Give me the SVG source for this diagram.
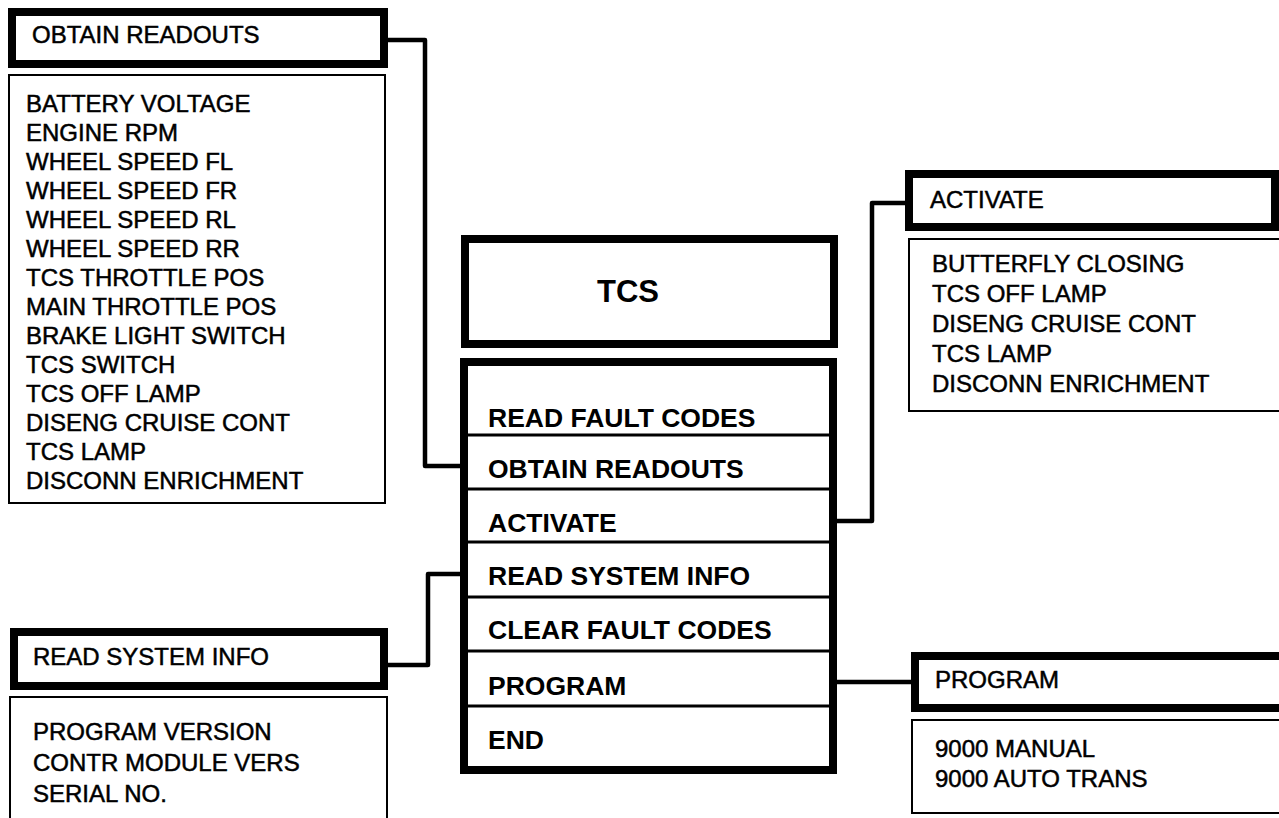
<svg xmlns="http://www.w3.org/2000/svg" width="1279" height="818" viewBox="0 0 1279 818">
<style>
.hdr{fill:#fff;stroke:#000;stroke-width:8}
.lst{fill:#fff;stroke:#000;stroke-width:2}
.t{font-family:"Liberation Sans",Arial,sans-serif;font-size:24px;fill:#000;stroke:#000;stroke-width:0.5}
.b{font-family:"Liberation Sans",Arial,sans-serif;font-size:26.5px;font-weight:bold;fill:#000}
.div{stroke:#000;stroke-width:3}
.con{fill:none;stroke:#000;stroke-width:4.5;stroke-linejoin:round}
</style>
<rect width="1279" height="818" fill="#fff"/>
<g id="connectors">
<polyline class="con" points="386,40 425,40 425,466 462,466"/>
<polyline class="con" points="386,665 428,665 428,574 462,574"/>
<polyline class="con" points="835,521 872,521 872,203 907,203"/>
<polyline class="con" points="835,682 913,682"/>
</g>
<g id="obtain-readouts-header">
<rect class="hdr" x="12" y="12" width="372" height="52"/>
<text class="t" x="32" y="43">OBTAIN READOUTS</text>
</g>
<g id="obtain-readouts-list">
<rect class="lst" x="9" y="75" width="376" height="428"/>
<text class="t" x="26" y="112">BATTERY VOLTAGE</text>
<text class="t" x="26" y="141">ENGINE RPM</text>
<text class="t" x="26" y="170">WHEEL SPEED FL</text>
<text class="t" x="26" y="199">WHEEL SPEED FR</text>
<text class="t" x="26" y="228">WHEEL SPEED RL</text>
<text class="t" x="26" y="257">WHEEL SPEED RR</text>
<text class="t" x="26" y="286">TCS THROTTLE POS</text>
<text class="t" x="26" y="315">MAIN THROTTLE POS</text>
<text class="t" x="26" y="344">BRAKE LIGHT SWITCH</text>
<text class="t" x="26" y="373">TCS SWITCH</text>
<text class="t" x="26" y="402">TCS OFF LAMP</text>
<text class="t" x="26" y="431">DISENG CRUISE CONT</text>
<text class="t" x="26" y="460">TCS LAMP</text>
<text class="t" x="26" y="489">DISCONN ENRICHMENT</text>
</g>
<g id="tcs-title">
<rect class="hdr" x="465" y="239" width="369" height="105"/>
<text x="597" y="302" style="font-family:'Liberation Sans',Arial,sans-serif;font-size:31px;font-weight:bold">TCS</text>
</g>
<g id="tcs-menu">
<rect class="hdr" x="464" y="362" width="369" height="408"/>
<line class="div" x1="468" y1="435" x2="829" y2="435"/>
<line class="div" x1="468" y1="489" x2="829" y2="489"/>
<line class="div" x1="468" y1="542" x2="829" y2="542"/>
<line class="div" x1="468" y1="597" x2="829" y2="597"/>
<line class="div" x1="468" y1="651" x2="829" y2="651"/>
<line class="div" x1="468" y1="706" x2="829" y2="706"/>
<text class="b" x="488" y="427">READ FAULT CODES</text>
<text class="b" x="488" y="478">OBTAIN READOUTS</text>
<text class="b" x="488" y="532">ACTIVATE</text>
<text class="b" x="488" y="585">READ SYSTEM INFO</text>
<text class="b" x="488" y="639">CLEAR FAULT CODES</text>
<text class="b" x="488" y="695">PROGRAM</text>
<text class="b" x="488" y="749">END</text>
</g>
<g id="activate-header">
<rect class="hdr" x="909" y="174" width="366" height="53"/>
<text class="t" x="930" y="208">ACTIVATE</text>
</g>
<g id="activate-list">
<rect class="lst" x="909" y="239" width="380" height="172"/>
<text class="t" x="932" y="272">BUTTERFLY CLOSING</text>
<text class="t" x="932" y="302">TCS OFF LAMP</text>
<text class="t" x="932" y="332">DISENG CRUISE CONT</text>
<text class="t" x="932" y="362">TCS LAMP</text>
<text class="t" x="932" y="392">DISCONN ENRICHMENT</text>
</g>
<g id="read-system-info-header">
<rect class="hdr" x="14" y="632" width="370" height="54"/>
<text class="t" x="33" y="665">READ SYSTEM INFO</text>
</g>
<g id="read-system-info-list">
<rect class="lst" x="10" y="697" width="377" height="140"/>
<text class="t" x="33" y="740">PROGRAM VERSION</text>
<text class="t" x="33" y="771">CONTR MODULE VERS</text>
<text class="t" x="33" y="802">SERIAL NO.</text>
</g>
<g id="program-header">
<rect class="hdr" x="915" y="656" width="380" height="52"/>
<text class="t" x="935" y="688">PROGRAM</text>
</g>
<g id="program-list">
<rect class="lst" x="912" y="720" width="380" height="93"/>
<text class="t" x="935" y="757">9000 MANUAL</text>
<text class="t" x="935" y="787">9000 AUTO TRANS</text>
</g>
</svg>
